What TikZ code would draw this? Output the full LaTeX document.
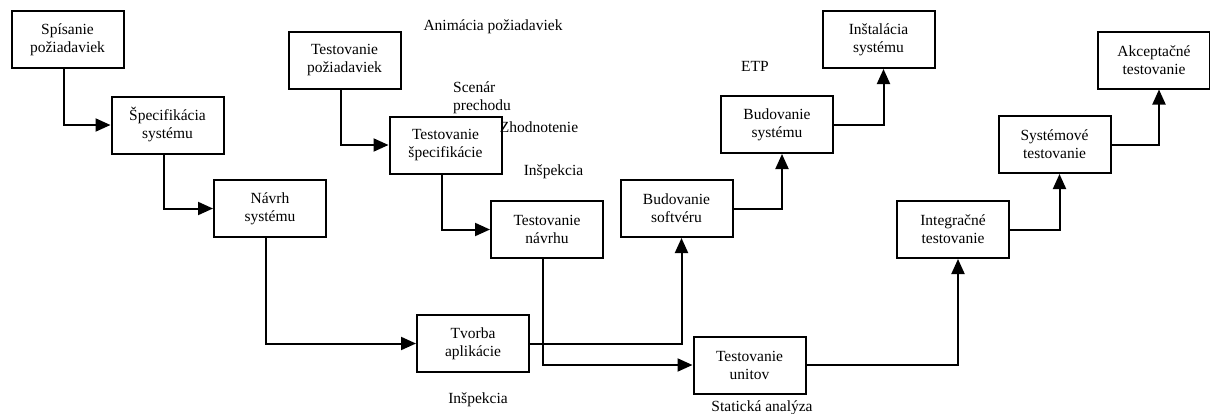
\documentclass[tikz,border=0pt]{standalone}
\usepackage{fontspec}
\setmainfont{Liberation Serif}
\usetikzlibrary{positioning, arrows.meta}
\tikzstyle{arrow} = [line width=2pt,-{Triangle[length=15pt,width=13pt]}]
\tikzstyle{phase} = [draw, line width=2pt, minimum width=112pt, minimum height=57pt, inner sep=0pt, align=center]
\tikzstyle{note} = [inner sep=0pt, align=left]

\begin{document}
\begin{tikzpicture}[x=1pt, y=-1pt, font=\fontsize{15.5}{18}\selectfont]
    \useasboundingbox (0,0) rectangle (1210,413);
    % left branch
    \node[phase] (spis) at (67.5,39.5)  {Spísanie\\požiadaviek};
    \node[phase] (spec) at (167.5,125)  {Špecifikácia\\systému};
    \node[phase] (navrh) at (270,208.5) {Návrh\\systému};
    \node[phase] (tvorba) at (473,343.5) {Tvorba\\aplikácie};
    % static testing
    \node[phase] (tpoz) at (344.5,60.5) {Testovanie\\požiadaviek};
    \node[phase] (tspec) at (445.5,145) {Testovanie\\špecifikácie};
    \node[phase] (tnav) at (547,229.5)  {Testovanie\\návrhu};
    \node[phase] (tunit) at (749.5,365) {Testovanie\\unitov};
    % right branch
    \node[phase] (bsoft) at (676.5,208.5) {Budovanie\\softvéru};
    \node[phase] (bsys) at (777,124.5)    {Budovanie\\systému};
    \node[phase] (inst) at (878.5,39.5)   {Inštalácia\\systému};
    \node[phase] (integ) at (953,229.5)   {Integračné\\testovanie};
    \node[phase] (systest) at (1054.5,144.5) {Systémové\\testovanie};
    \node[phase] (akcept) at (1154,60)    {Akceptačné\\testovanie};

    % free labels
    \node[note] (anim) at (493,27) {Animácia požiadaviek};
    \node[note, anchor=west] (scen) at (453,98) {Scenár\\prechodu};
    \node[note] (zhod) at (539,127) {Zhodnotenie};
    \node[note] (insp1) at (553.5,172) {Inšpekcia};
    \node[note] (etp) at (755,66) {ETP};
    \node[note] (insp2) at (478,400) {Inšpekcia};
    \node[note] (stat) at (762,408) {Statická analýza};

    % arrows
    \draw[arrow] ([xshift=-4pt]spis.south) |- (spec.west);
    \draw[arrow] ([xshift=-4pt]spec.south) |- (navrh.west);
    \draw[arrow] ([xshift=-4pt]navrh.south) |- (tvorba.west);
    \draw[arrow] ([xshift=-4pt]tpoz.south) |- (tspec.west);
    \draw[arrow] ([xshift=-4pt]tspec.south) |- (tnav.west);
    \draw[arrow] ([xshift=-4pt]tnav.south) |- (tunit.west);
    \draw[arrow] (tvorba.east) -| ([xshift=5pt]bsoft.south);
    \draw[arrow] (bsoft.east) -| ([xshift=5pt]bsys.south);
    \draw[arrow] (bsys.east) -| ([xshift=5pt]inst.south);
    \draw[arrow] (tunit.east) -| ([xshift=5pt]integ.south);
    \draw[arrow] (integ.east) -| ([xshift=5pt]systest.south);
    \draw[arrow] (systest.east) -| ([xshift=5pt]akcept.south);
\end{tikzpicture}
\end{document}
